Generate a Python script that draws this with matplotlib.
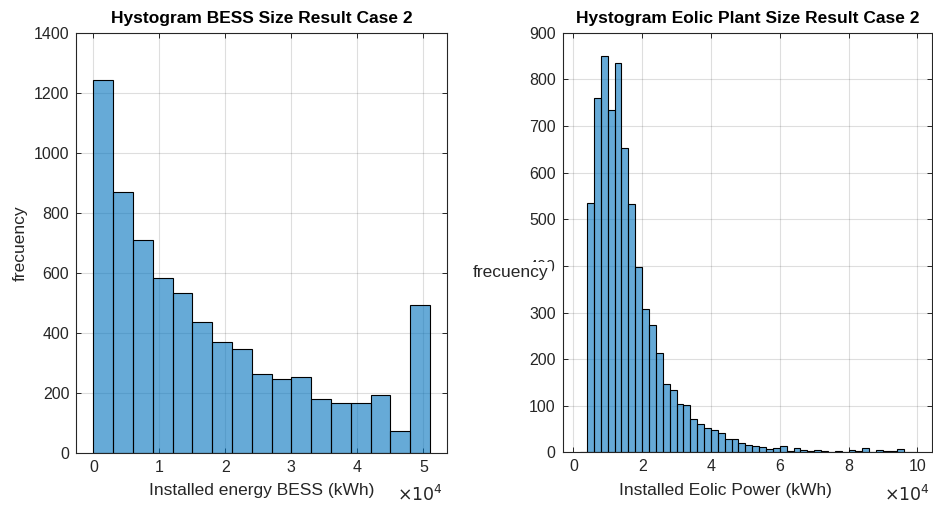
import numpy as np
import matplotlib
matplotlib.use("Agg")
import matplotlib.pyplot as plt
from matplotlib.ticker import FuncFormatter

plt.rcParams['font.family'] = ['Liberation Sans', 'DejaVu Sans']

# BESS size histogram (bin width 3000 kWh)
bess_edges = np.arange(0, 51001, 3000)
bess_counts = [1242, 869, 709, 583, 532, 436, 371, 345, 262, 248, 252,
               180, 166, 165, 193, 73, 493]

# Eolic plant size histogram (bin width 2000 kWh, starting at 2000)
eolic_edges = np.arange(2000, 100001, 2000)
eolic_counts = [2, 535, 761, 851, 734, 835, 654, 533, 397, 307, 274, 214,
                147, 135, 105, 101, 71, 61, 53, 49, 41, 29, 28, 21, 16, 13,
                12, 8, 10, 14, 4, 10, 6, 4, 6, 4, 1, 4, 1, 6, 4, 10, 1, 6,
                4, 4, 7, 0, 2]

face = (0.0, 0.447, 0.741, 0.6)
dark = (0.15, 0.15, 0.15)

fig = plt.figure(figsize=(9.33, 5.05), dpi=100)
ax1 = fig.add_axes([0.0818, 0.103, 0.397, 0.8317])
ax2 = fig.add_axes([0.6031, 0.104, 0.396, 0.831])


def style(ax):
    ax.grid(True, color=dark, alpha=0.15, linewidth=0.8)
    ax.set_axisbelow(True)
    ax.tick_params(direction='in', length=3.5, width=0.7, colors=dark,
                   labelsize=11.5, top=True, right=True, pad=5)
    ax.tick_params(axis='x', pad=5)
    for s in ax.spines.values():
        s.set_color(dark)
        s.set_linewidth(0.8)
    ax.xaxis.set_major_formatter(FuncFormatter(lambda v, p: f"{v/1e4:g}"))


ax1.hist(bess_edges[:-1], bins=bess_edges, weights=bess_counts,
         facecolor=face, edgecolor='black', linewidth=0.8)
ax1.set_xlim(-2576, 53545)
ax1.set_ylim(0, 1400)
ax1.set_xticks(np.arange(0, 50001, 10000))
ax1.set_yticks(np.arange(0, 1401, 200))
style(ax1)
ax1.set_title("Hystogram BESS Size Result Case 2", fontsize=12.5,
              fontweight='bold', pad=7)
ax1.set_xlabel("Installed energy BESS (kWh)", fontsize=12.5, color=dark)
ax1.xaxis.set_label_coords(0.5, -0.072)
ax1.set_ylabel("frecuency", fontsize=12.5, color=dark)
ax1.yaxis.set_label_coords(-0.13, 0.5)
ax1.text(0.99, -0.098, r"$\times10^{4}$", transform=ax1.transAxes,
         ha='right', va='center', fontsize=12.5, color=dark)

ax2.hist(eolic_edges[:-1], bins=eolic_edges, weights=eolic_counts,
         facecolor=face, edgecolor='black', linewidth=0.8)
ax2.set_xlim(-3090, 104300)
ax2.set_ylim(0, 900)
ax2.set_xticks(np.arange(0, 100001, 20000))
ax2.set_yticks(np.arange(0, 901, 100))
style(ax2)
ax2.set_title("Hystogram Eolic Plant Size Result Case 2", fontsize=12.5,
              fontweight='bold', pad=7)
ax2.set_xlabel("Installed Eolic Power (kWh)", fontsize=12.5, color=dark)
ax2.xaxis.set_label_coords(0.44, -0.072)
ax2.set_ylabel("frecuency", fontsize=12.5, color=dark, rotation=0,
               ha='center', va='center',
               bbox=dict(facecolor='white', edgecolor='none', pad=2))
ax2.yaxis.set_label_coords(-0.14, 0.43)
ax2.text(0.995, -0.098, r"$\times10^{4}$", transform=ax2.transAxes,
         ha='right', va='center', fontsize=12.5, color=dark)

fig.savefig("out.png", dpi=100)
